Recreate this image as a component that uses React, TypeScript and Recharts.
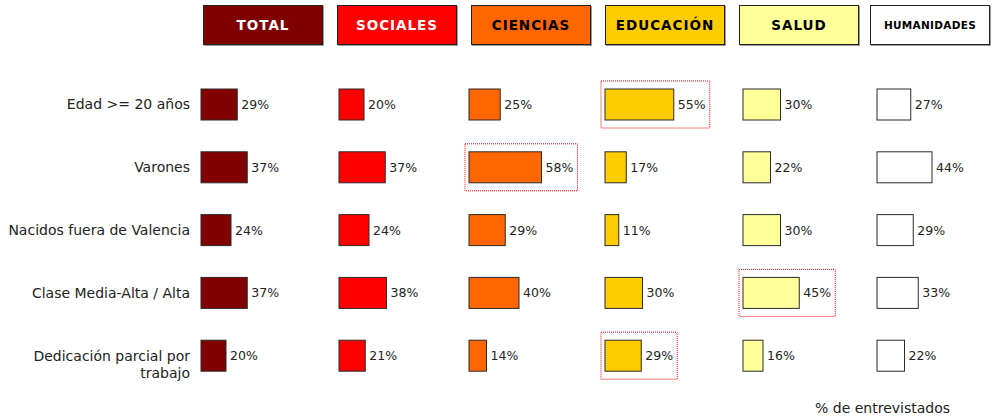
import React from 'react';
import { ComposedChart, Bar, XAxis, YAxis, Legend, LabelList } from 'recharts';

const rows = [
  'Edad >= 20 años',
  'Varones',
  'Nacidos fuera de Valencia',
  'Clase Media-Alta / Alta',
  'Dedicación parcial por trabajo',
];

const groups = ['TOTAL', 'SOCIALES', 'CIENCIAS', 'EDUCACIÓN', 'SALUD', 'HUMANIDADES'];
const keys = ['total', 'sociales', 'ciencias', 'educacion', 'salud', 'humanidades'];

const total = [29, 37, 24, 37, 20];
const sociales = [20, 37, 24, 38, 21];
const ciencias = [25, 58, 29, 40, 14];
const educacion = [55, 17, 11, 30, 29];
const salud = [30, 22, 30, 45, 16];
const humanidades = [27, 44, 29, 33, 22];

// rows marked with the dotted red box, per group
const highlighted: number[][] = [[], [], [1], [0, 4], [3], []];

const footnote = '% de entrevistados';

const series = [total, sociales, ciencias, educacion, salud, humanidades];
const data = rows.map((row, i) => {
  const d: Record<string, any> = { row };
  keys.forEach((k, j) => { d[k] = series[j][i]; });
  return d;
});

// look
const FONT = '"DejaVu Sans", Verdana, sans-serif';
const W = 995;
const H = 420;
const PLOT_LEFT = 196;
const PX_PER_PCT = 1.25;
const colStarts = [201, 339, 469, 605, 743, 877];
const fills = ['#800000', '#FF0000', '#FF6600', '#FFCC00', '#FFFF99', '#FFFFFF'];
const headerText = ['#FFFFFF', '#FFFFFF', '#000000', '#000000', '#000000', '#000000'];
const headerLefts = [203, 337, 471, 605, 739, 870];
const MAX_CHARS = 26;

if (typeof document !== 'undefined') document.body.style.margin = '0';

const wrap = (s: string) => {
  const lines: string[] = [];
  let cur = '';
  s.split(' ').forEach((w) => {
    const next = cur ? cur + ' ' + w : w;
    if (next.length > MAX_CHARS && cur) {
      lines.push(cur);
      cur = w;
    } else cur = next;
  });
  if (cur) lines.push(cur);
  return lines;
};

const makeShape = (g: number) => (props: any) => {
  const { x, y, width, height, fill, index } = props;
  const hl = highlighted[g].includes(index);
  return (
    <g>
      <rect x={x} y={y} width={width} height={height} fill={fill} stroke="#2b2b2b" strokeWidth={1} />
      {hl && (
        <rect
          x={x - 4}
          y={y - 8}
          width={width + 40}
          height={height + 16}
          fill="none"
          stroke="#FF0000"
          strokeWidth={1}
          strokeDasharray="1 1"
        />
      )}
    </g>
  );
};

const RowTick = (props: any) => {
  const { x, y, payload } = props;
  const lines = wrap(String(payload.value));
  const tx = x + 2;
  return (
    <text x={tx} y={y} textAnchor="end" fontSize={14} fontFamily={FONT} fill="#222">
      {lines.map((l, i) => (
        <tspan key={i} x={tx} dy={i === 0 ? '0.35em' : '1.25em'}>
          {l}
        </tspan>
      ))}
    </text>
  );
};

const HeaderLegend = (props: any) => {
  const payload = [...(props.payload || [])].sort(
    (a: any, b: any) => groups.indexOf(a.value) - groups.indexOf(b.value)
  );
  return (
    <div style={{ position: 'relative', width: W, height: 50 }}>
      {payload.map((entry: any, i: number) => (
        <div
          key={i}
          style={{
            position: 'absolute',
            left: headerLefts[i],
            top: 5,
            width: 118,
            height: 38,
            background: entry.color,
            border: '1px solid #222',
            boxShadow: '1px 1px 0 #999',
            color: headerText[i],
            fontFamily: FONT,
            fontWeight: 'bold',
            fontSize: i === 5 ? 10.5 : 13.5,
            letterSpacing: i === 5 ? 0.3 : 1,
            display: 'flex',
            alignItems: 'center',
            justifyContent: 'center',
            whiteSpace: 'nowrap',
          }}
        >
          {entry.value}
        </div>
      ))}
    </div>
  );
};

export default function App() {
  return (
    <div style={{ position: 'relative', width: W, height: H, background: '#fff' }}>
      <ComposedChart
        width={W}
        height={H}
        data={data}
        layout="vertical"
        margin={{ top: 73, right: 0, bottom: 33, left: 0 }}
      >
        {keys.map((k, i) => (
          <XAxis
            key={'x' + k}
            xAxisId={k}
            type="number"
            hide
            allowDataOverflow
            domain={[-(colStarts[i] - PLOT_LEFT) / PX_PER_PCT, (W - colStarts[i]) / PX_PER_PCT]}
          />
        ))}
        {keys.map((k, i) => (
          <YAxis
            key={'y' + k}
            yAxisId={k}
            type="category"
            dataKey="row"
            hide={i > 0}
            width={i > 0 ? 0 : PLOT_LEFT}
            axisLine={false}
            tickLine={false}
            tick={<RowTick />}
            interval={0}
          />
        ))}
        <Legend
          layout="horizontal"
          verticalAlign="middle"
          align="center"
          wrapperStyle={{ top: 0, left: 0, width: W }}
          content={<HeaderLegend />}
        />
        {keys.map((k, i) => (
          <Bar
            key={k}
            dataKey={k}
            name={groups[i]}
            xAxisId={k}
            yAxisId={k}
            fill={fills[i]}
            barSize={31}
            shape={makeShape(i)}
            isAnimationActive={false}
          >
            <LabelList
              dataKey={k}
              position="right"
              offset={4}
              formatter={(v: any) => `${v}%`}
              style={{ fontSize: 12.5, fontFamily: FONT, fill: '#222' }}
            />
          </Bar>
        ))}
      </ComposedChart>
      <div
        style={{
          position: 'absolute',
          left: 815,
          top: 400,
          fontFamily: FONT,
          fontSize: 14,
          color: '#222',
          whiteSpace: 'nowrap',
        }}
      >
        {footnote}
      </div>
    </div>
  );
}
